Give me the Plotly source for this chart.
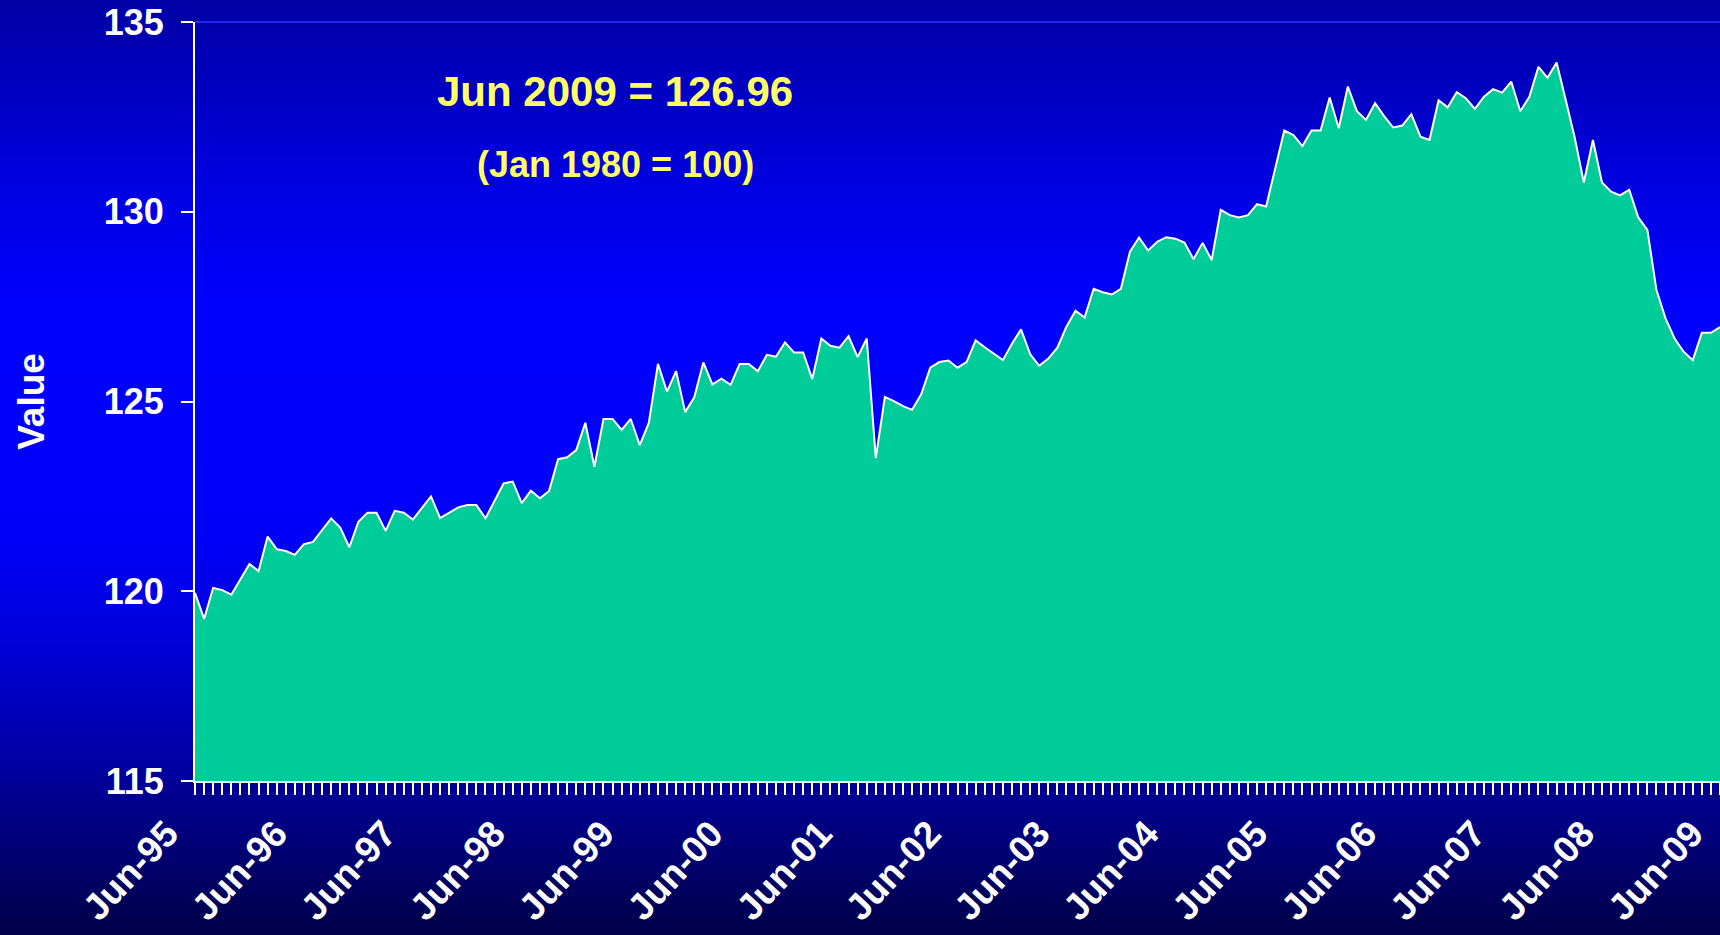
import plotly.graph_objects as go

# Monthly index values, Jun-1995 .. Jun-2009 (Jan 1980 = 100)
values = [
    119.96, 119.27, 120.09, 120.03, 119.91, 120.32, 120.72, 120.53, 121.44, 121.11, 121.06, 120.96,
    121.24, 121.30, 121.61, 121.92, 121.68, 121.16, 121.83, 122.07, 122.07, 121.59, 122.12, 122.07,
    121.89, 122.20, 122.50, 121.93, 122.07, 122.21, 122.27, 122.27, 121.92, 122.39, 122.84, 122.89,
    122.32, 122.65, 122.45, 122.64, 123.48, 123.53, 123.72, 124.44, 123.28, 124.54, 124.54, 124.25,
    124.54, 123.85, 124.44, 125.99, 125.26, 125.80, 124.72, 125.11, 126.03, 125.45, 125.60, 125.44,
    125.99, 125.99, 125.80, 126.23, 126.18, 126.56, 126.29, 126.29, 125.59, 126.66, 126.47, 126.42,
    126.72, 126.17, 126.66, 123.51, 125.12, 125.01, 124.88, 124.78, 125.19, 125.89, 126.04, 126.08,
    125.89, 126.04, 126.61, 126.43, 126.25, 126.09, 126.52, 126.90, 126.25, 125.94, 126.13, 126.42,
    126.97, 127.39, 127.21, 127.97, 127.88, 127.82, 127.97, 128.95, 129.32, 128.98, 129.21, 129.33,
    129.29, 129.19, 128.75, 129.18, 128.73, 130.05, 129.91, 129.85, 129.91, 130.20, 130.14, 131.14,
    132.14, 132.02, 131.73, 132.14, 132.14, 133.01, 132.20, 133.30, 132.65, 132.42, 132.86, 132.52,
    132.22, 132.27, 132.57, 131.98, 131.89, 132.94, 132.75, 133.15, 132.99, 132.71, 133.03, 133.23,
    133.14, 133.43, 132.65, 133.03, 133.82, 133.53, 133.93, 132.95, 131.95, 130.77, 131.89, 130.77,
    130.53, 130.43, 130.58, 129.85, 129.52, 127.94, 127.19, 126.66, 126.31, 126.09, 126.81, 126.81,
    126.96,
]
month_index = list(range(len(values)))

tick_labels = ["Jun-95", "Jun-96", "Jun-97", "Jun-98", "Jun-99", "Jun-00", "Jun-01", "Jun-02",
               "Jun-03", "Jun-04", "Jun-05", "Jun-06", "Jun-07", "Jun-08", "Jun-09"]
tick_positions = [12 * i for i in range(len(tick_labels))]
y_ticks = [115, 120, 125, 130, 135]

W, H = 1720, 935
L, T, B, R = 195, 22, 154, 0
plot_h = H - T - B

FONT = "Arial, 'Liberation Sans', Helvetica, sans-serif"

fig = go.Figure()
fig.add_trace(go.Scatter(
    x=month_index, y=values, mode="lines",
    line=dict(color="white", width=2),
    fill="tozeroy", fillcolor="#00CC99",
    hoverinfo="skip",
))

# background vertical gradient built from thin bands
stops = [(0.0, (0, 0, 165)), (0.22, (0, 0, 230)), (0.33, (0, 0, 255)), (0.57, (0, 0, 250)),
         (0.72, (0, 0, 205)), (0.85, (0, 0, 145)), (1.0, (0, 0, 72))]

def col_at(f):
    for (f0, c0), (f1, c1) in zip(stops[:-1], stops[1:]):
        if f0 <= f <= f1:
            t = (f - f0) / (f1 - f0) if f1 > f0 else 0
            return "rgb(%d,%d,%d)" % tuple(round(a + (b - a) * t) for a, b in zip(c0, c1))
    return "rgb(%d,%d,%d)" % stops[-1][1]

shapes = []
step = 5
for py in range(0, H, step):
    y_top = (H - B - py) / plot_h
    y_bot = (H - B - (py + step + 1)) / plot_h
    shapes.append(dict(type="rect", xref="paper", yref="paper",
                       x0=-L / (W - L) - 0.01, x1=1.01, y0=y_bot, y1=y_top,
                       fillcolor=col_at((py + step / 2) / H), line=dict(width=0), layer="below"))
# faint top border of plot area
shapes.append(dict(type="line", xref="paper", yref="paper", x0=0, x1=1, y0=1, y1=1,
                   line=dict(color="#3535ff", width=1.5), layer="below"))

fig.update_layout(
    width=W, height=H,
    margin=dict(l=L, r=R, t=T, b=B, autoexpand=False),
    paper_bgcolor="#000060",
    plot_bgcolor="rgba(0,0,0,0)",
    showlegend=False,
    shapes=shapes,
    font=dict(family=FONT, color="white"),
    xaxis=dict(
        range=[0, 168],
        automargin=False,
        tickvals=tick_positions, ticktext=tick_labels,
        tickangle=-47,
        tickfont=dict(family=FONT, size=37, color="white", weight="bold"),
        ticks="outside", ticklen=12, tickwidth=2, tickcolor="white",
        minor=dict(dtick=1, tick0=0, ticks="outside", ticklen=12, tickwidth=2, tickcolor="white", showgrid=False),
        showline=True, linecolor="white", linewidth=2,
        showgrid=False, zeroline=False,
        ticklabelstandoff=2,
        ticklabelshift=-28,
        ticklabeloverflow="allow",
    ),
    yaxis=dict(
        range=[115, 135],
        automargin=False,
        tickvals=y_ticks,
        tickfont=dict(family=FONT, size=36, color="white", weight="bold"),
        ticks="outside", ticklen=12, tickwidth=2, tickcolor="white",
        showline=True, linecolor="white", linewidth=2,
        showgrid=False, zeroline=False,
        ticklabelstandoff=10,
        title=dict(text="Value", font=dict(family=FONT, size=37, color="white", weight="bold"), standoff=48),
    ),
    annotations=[
        dict(text="Jun 2009 = 126.96", xref="paper", yref="paper",
             x=(615 - L) / (W - L), y=(H - B - 92) / plot_h, xanchor="center", yanchor="middle",
             showarrow=False, font=dict(family=FONT, size=42, color="#FFFF66", weight="bold")),
        dict(text="(Jan 1980 = 100)", xref="paper", yref="paper",
             x=(615 - L) / (W - L), y=(H - B - 164) / plot_h, xanchor="center", yanchor="middle",
             showarrow=False, font=dict(family=FONT, size=36, color="#FFFF66", weight="bold")),
    ],
)

fig.write_html("out.html", config={"displayModeBar": False},
               post_script="document.body.style.margin='0';document.body.style.overflow='hidden';")
